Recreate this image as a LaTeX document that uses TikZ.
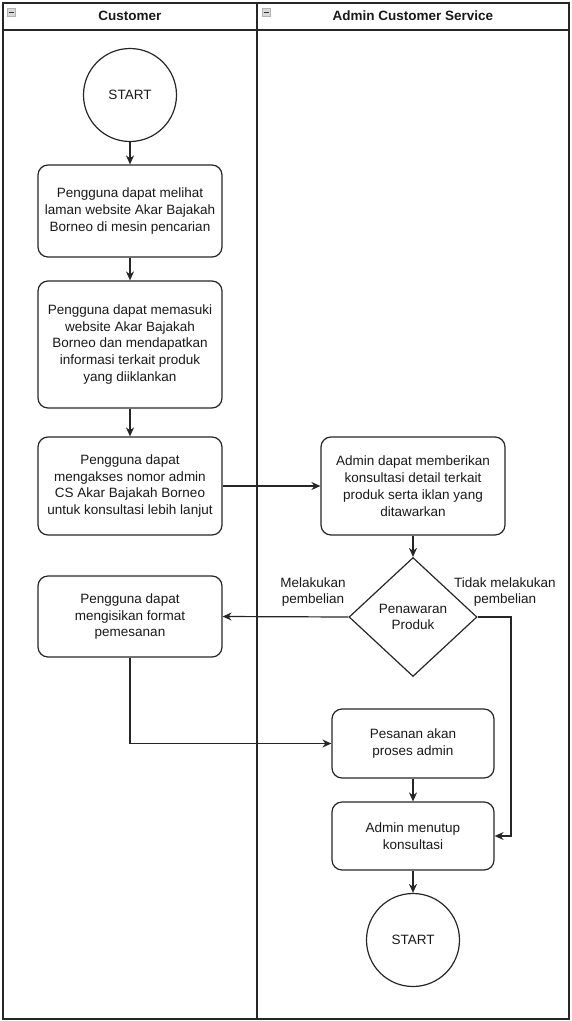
\documentclass[tikz,border=0pt]{standalone}
\usepackage{fontspec}
\setmainfont{Liberation Sans}
\usetikzlibrary{shapes.geometric,arrows.meta}

\begin{document}
\begin{tikzpicture}[x=1pt,y=-1pt,
        line width=1.2pt,
        every node/.style={font=\fontsize{13.5}{16.8}\selectfont, text=black!90, align=center},
        flow/.style={draw=black!85, -{Stealth[length=9pt,width=8pt]}},
        stepbox/.style={draw=black!85, rectangle, rounded corners=10pt, minimum width=184pt, inner sep=0pt},
        terminal/.style={draw=black!85, circle, minimum size=93pt, inner sep=0pt},
        decision/.style={draw=black!85, diamond, minimum width=128pt, minimum height=119pt, inner sep=0pt},
        lanehead/.style={font=\fontsize{13.5}{16}\selectfont\bfseries},
        laneicon/.style={draw=gray!60, fill=gray!30, line width=0.6pt}]
    \useasboundingbox (0,0) rectangle (571,1021);

    % swimlanes
    \draw[black!85] (3,3) rectangle (569,1019);
    \draw[black!85] (3,30) -- (569,30);
    \draw[black!85] (257,3) -- (257,1019);
    \node[lanehead] (hcust) at (130,16) {Customer};
    \node[lanehead] (hadmin) at (413,16) {Admin Customer Service};
    \draw[laneicon] (7.5,8) rectangle (15.5,16);
    \draw[black!80, line width=1pt] (9,12) -- (14,12);
    \draw[laneicon] (262,8) rectangle (270,16);
    \draw[black!80, line width=1pt] (263.5,12) -- (268.5,12);

    % customer lane
    \node[terminal] (start) at (130,95) {START};
    \node[stepbox, minimum height=92pt] (blihat) at (130,211) {Pengguna dapat melihat\\laman website Akar Bajakah\\Borneo di mesin pencarian};
    \node[stepbox, minimum height=127pt] (bmasuk) at (130,344.5) {Pengguna dapat memasuki\\website Akar Bajakah\\Borneo dan mendapatkan\\informasi terkait produk\\yang diiklankan};
    \node[stepbox, minimum height=98pt] (bakses) at (130,486) {Pengguna dapat\\mengakses nomor admin\\CS Akar Bajakah Borneo\\untuk konsultasi lebih lanjut};
    \node[stepbox, minimum height=81pt] (bform) at (130,616.5) {Pengguna dapat\\mengisikan format\\pemesanan};

    % admin lane
    \node[stepbox, minimum height=98pt] (bkonsul) at (413,486) {Admin dapat memberikan\\konsultasi detail terkait\\produk serta iklan yang\\ditawarkan};
    \node[decision] (pdec) at (413,617) {Penawaran\\Produk};
    \node[stepbox, minimum width=162pt, minimum height=69pt] (bproses) at (413,743.5) {Pesanan akan\\proses admin};
    \node[stepbox, minimum width=162pt, minimum height=68pt] (btutup) at (413,836) {Admin menutup\\konsultasi};
    \node[terminal] (finish) at (413,940) {START};
    \coordinate (turn) at (511,617);

    % connectors
    \draw[flow] (start) -- (blihat);
    \draw[flow] (blihat) -- (bmasuk);
    \draw[flow] (bmasuk) -- (bakses);
    \draw[flow] (bakses) -- (bkonsul);
    \draw[flow] (bkonsul) -- (pdec);
    \draw[flow] (pdec.west) -- (bform.east);
    \draw[flow] (pdec.east) -- (turn) |- (btutup.east);
    \draw[flow] (bform.south) |- (bproses.west);
    \draw[flow] (bproses) -- (btutup);
    \draw[flow] (btutup) -- (finish);

    % labels
    \node (lbeli) at (313,592) {Melakukan\\pembelian};
    \node (ltidak) at (505,592) {Tidak melakukan\\pembelian};
\end{tikzpicture}
\end{document}
